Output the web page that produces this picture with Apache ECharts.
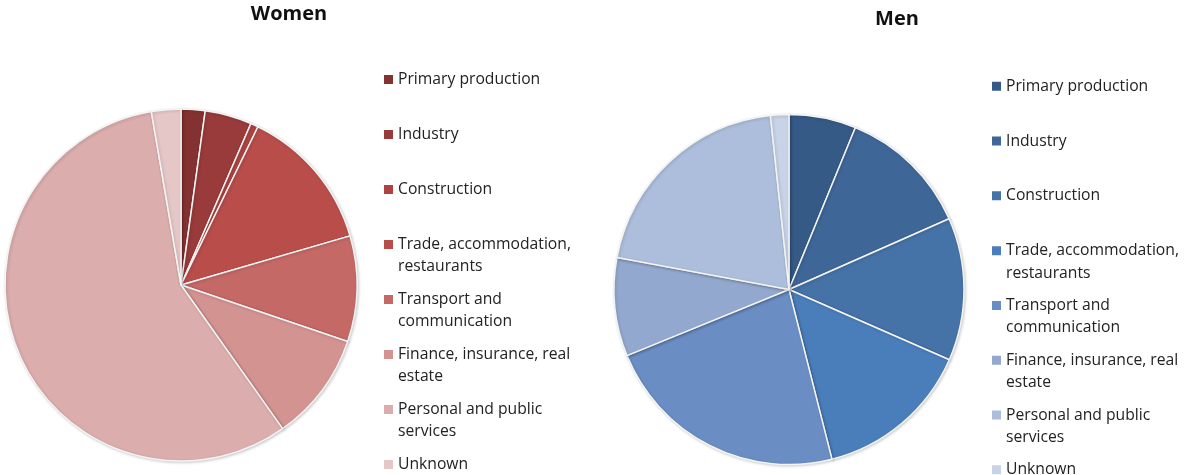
<!DOCTYPE html>
<html>
<head>
<meta charset="utf-8">
<script src="https://cdn.jsdelivr.net/npm/echarts@6/dist/echarts.min.js"></script>
<style>
html,body{margin:0;padding:0;background:#fff;}
#chart{width:1186px;height:475px;}
</style>
</head>
<body>
<div id="chart"></div>
<script>
// ---- data ----
const categories = [
  'Primary production',
  'Industry',
  'Construction',
  'Trade, accommodation, restaurants',
  'Transport and communication',
  'Finance, insurance, real estate',
  'Personal and public services',
  'Unknown'
];
const legendLabels = [
  'Primary production',
  'Industry',
  'Construction',
  'Trade, accommodation,\nrestaurants',
  'Transport and\ncommunication',
  'Finance, insurance, real\nestate',
  'Personal and public\nservices',
  'Unknown'
];
const womenValues = [2.2, 4.3, 0.7, 13.3, 9.7, 10.0, 57.1, 2.7];
const menValues   = [6.2, 12.2, 13.2, 14.5, 22.8, 9.1, 20.4, 1.7];
const womenColors = ['#843231', '#983b3a', '#ad4442', '#b94d4a', '#c46966', '#d39391', '#dbadad', '#e6c7c7'];
const menColors   = ['#355a86', '#3e6697', '#4573a7', '#4a7eba', '#6a8ec4', '#93a8cf', '#acbedb', '#c8d3e7'];
const titles = ['Women', 'Men'];
const MEN_SUFFIX = ' (men)';

// ---- build ----
const womenData = categories.map((c, i) => ({name: c, value: womenValues[i], itemStyle: {color: womenColors[i]}}));
const menData = categories.map((c, i) => ({name: c + MEN_SUFFIX, value: menValues[i], itemStyle: {color: menColors[i]}}));

function legendFormatter(name) {
  const base = name.replace(MEN_SUFFIX, '');
  const idx = categories.indexOf(base);
  const lbl = legendLabels[idx];
  return lbl.indexOf('\n') >= 0 ? lbl : lbl + '\n ';
}

const LH = 22.5;
// square icon aligned with the first text line inside a two-line-tall icon box
const iconPath = 'path://M0,0L0.001,0Z M0,6.75L9,6.75L9,15.75L0,15.75Z M0,45L0.001,45Z';

const legendText = {
  fontFamily: 'Open Sans',
  fontSize: 15.7,
  color: '#222',
  lineHeight: LH
};

const legendCommon = {
  orient: 'vertical', padding: 0,
  height: 600,
  itemWidth: 9, itemHeight: 2 * LH,
  icon: iconPath,
  formatter: legendFormatter,
  textStyle: legendText,
  selectedMode: false,
  itemStyle: {borderWidth: 0, shadowBlur: 0}
};

const pieCommon = {
  type: 'pie',
  startAngle: 90,
  clockwise: true,
  label: {show: false},
  labelLine: {show: false},
  emphasis: {disabled: true},
  itemStyle: {
    borderColor: '#f4f4f4',
    borderWidth: 1.5,
    shadowBlur: 3,
    shadowColor: 'rgba(0,0,0,0.18)',
    shadowOffsetX: 1,
    shadowOffsetY: 1
  }
};

const option = {
  animation: false,
  backgroundColor: '#fff',
  title: [
    {text: titles[0], left: 289, top: 3, textAlign: 'center', padding: 0,
     textStyle: {fontFamily: 'Open Sans', fontWeight: 'bold', fontSize: 20, lineHeight: 22, color: '#111'}},
    {text: titles[1], left: 897, top: 8, textAlign: 'center', padding: 0,
     textStyle: {fontFamily: 'Open Sans', fontWeight: 'bold', fontSize: 20, lineHeight: 22, color: '#111'}}
  ],
  legend: [
    Object.assign({}, legendCommon, {
      left: 384, top: 68.25, itemGap: 10,
      data: categories.slice()
    }),
    Object.assign({}, legendCommon, {
      left: 992, top: 75, itemGap: 9.8,
      data: categories.map(c => c + MEN_SUFFIX)
    })
  ],
  series: [
    Object.assign({}, pieCommon, {name: titles[0], center: [181, 285], radius: [0, 176], data: womenData}),
    Object.assign({}, pieCommon, {name: titles[1], center: [789, 289.5], radius: [0, 175], data: menData})
  ]
};

const chart = echarts.init(document.getElementById('chart'), null, {renderer: 'canvas'});
chart.setOption(option);
</script>
</body>
</html>
